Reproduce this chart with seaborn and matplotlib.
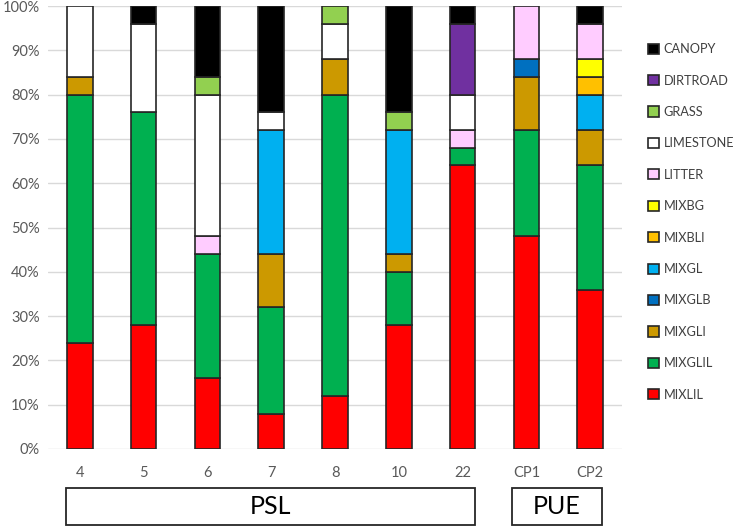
import matplotlib
matplotlib.use("Agg")
import matplotlib.pyplot as plt
import seaborn as sns
import pandas as pd
from matplotlib.patches import Rectangle, Patch
from matplotlib.ticker import PercentFormatter

sites = ["4", "5", "6", "7", "8", "10", "22", "CP1", "CP2"]
groups = ["PSL", "PUE"]
group_members = [["4", "5", "6", "7", "8", "10", "22"], ["CP1", "CP2"]]

# stacking order bottom -> top
MIXLIL    = [24, 28, 16,  8, 12, 28, 64, 48, 36]
MIXGLIL   = [56, 48, 28, 24, 68, 12,  4, 24, 28]
MIXGLI    = [ 4,  0,  0, 12,  8,  4,  0, 12,  8]
MIXGLB    = [ 0,  0,  0,  0,  0,  0,  0,  4,  0]
MIXGL     = [ 0,  0,  0, 28,  0, 28,  0,  0,  8]
MIXBLI    = [ 0,  0,  0,  0,  0,  0,  0,  0,  4]
MIXBG     = [ 0,  0,  0,  0,  0,  0,  0,  0,  4]
LITTER    = [ 0,  0,  4,  0,  0,  0,  4, 12,  8]
LIMESTONE = [16, 20, 32,  4,  8,  0,  8,  0,  0]
GRASS     = [ 0,  0,  4,  0,  4,  4,  0,  0,  0]
DIRTROAD  = [ 0,  0,  0,  0,  0,  0, 16,  0,  0]
CANOPY    = [ 0,  4, 16, 24,  0, 24,  4,  0,  4]

layers = [
    ("MIXLIL", MIXLIL, "#FF0000"),
    ("MIXGLIL", MIXGLIL, "#00B050"),
    ("MIXGLI", MIXGLI, "#CC9900"),
    ("MIXGLB", MIXGLB, "#0070C0"),
    ("MIXGL", MIXGL, "#00B0F0"),
    ("MIXBLI", MIXBLI, "#FFC000"),
    ("MIXBG", MIXBG, "#FFFF00"),
    ("LITTER", LITTER, "#FFCCFF"),
    ("LIMESTONE", LIMESTONE, "#FFFFFF"),
    ("GRASS", GRASS, "#92D050"),
    ("DIRTROAD", DIRTROAD, "#7030A0"),
    ("CANOPY", CANOPY, "#000000"),
]

sns.set_theme(style="white")
plt.rcParams["font.family"] = ["Lato", "DejaVu Sans"]

W, H = 733, 527
fig = plt.figure(figsize=(W / 100, H / 100), dpi=100)
ax = fig.add_axes([48 / W, 1 - 449 / H, (622 - 48) / W, (449 - 6) / H])

edge = "#262626"
cum = [0] * len(sites)
for name, vals, col in layers:
    rows = [(s, v, b) for s, v, b in zip(sites, vals, cum) if v > 0]
    df = pd.DataFrame(rows, columns=["site", "pct", "bottom"])
    sns.barplot(data=df, x="site", y="pct", order=sites, bottom=df["bottom"].values,
                color=col, saturation=1, width=0.4, edgecolor=edge, linewidth=1.2,
                errorbar=None, ax=ax, zorder=3)
    cum = [c + v for c, v in zip(cum, vals)]

ax.set_ylim(0, 100)
ax.set_xlim(-0.5, len(sites) - 0.5)
ax.set_yticks(range(0, 101, 10))
ax.yaxis.set_major_formatter(PercentFormatter(decimals=0))
ax.grid(axis="y", color="#D9D9D9", linewidth=1, zorder=0)
ax.set_axisbelow(True)
for sp in ax.spines.values():
    sp.set_visible(False)
ax.set_xlabel("")
ax.set_ylabel("")
ax.tick_params(axis="y", labelsize=10.5, colors="#595959", length=0, pad=6)
ax.tick_params(axis="x", labelsize=10.5, colors="#595959", length=0, pad=12)

handles = [Patch(facecolor=c, edgecolor=edge, linewidth=1.2, label=n) for n, _, c in layers][::-1]
fig.legend(handles=handles, loc="upper left", bbox_to_anchor=(643 / W, 1 - 38 / H),
           frameon=False, fontsize=9.2, labelcolor="#404040", handlelength=0.85,
           handleheight=0.85, handletextpad=0.35, labelspacing=1.52, borderaxespad=0)

# group boxes
boxes = [("PSL", 66, 475), ("PUE", 512, 602)]
for label, x0, x1 in boxes:
    y0, y1 = 488, 525
    fig.patches.append(Rectangle((x0 / W, 1 - y1 / H), (x1 - x0) / W, (y1 - y0) / H,
                                 transform=fig.transFigure, facecolor="white",
                                 edgecolor="#262626", linewidth=1.3))
    fig.text((x0 + x1) / 2 / W, 1 - (y0 + y1) / 2 / H, label, ha="center", va="center",
             fontsize=18, color="#000000")

fig.savefig("out.png", dpi=100)
